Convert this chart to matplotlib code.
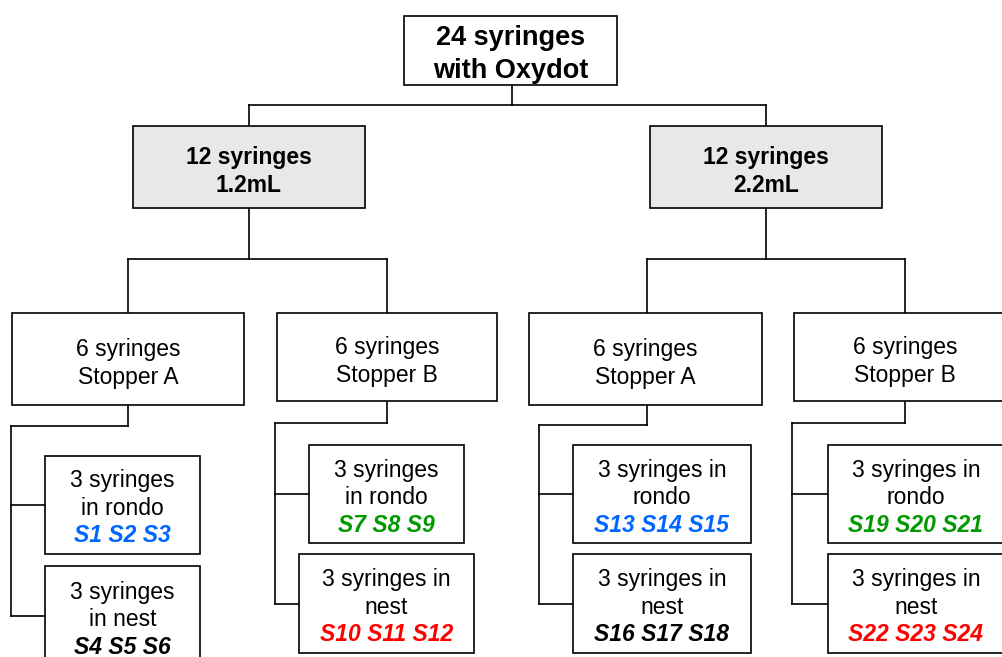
import matplotlib
matplotlib.use("Agg")
import matplotlib.pyplot as plt
from matplotlib.patches import Rectangle

plt.rcParams['font.family'] = ['Liberation Sans', 'DejaVu Sans']

# ---- data ----
root_lines = ["24 syringes", "with Oxydot"]
volume_lines = [["12 syringes", "1.2mL"], ["12 syringes", "2.2mL"]]
stopper_lines = [["6 syringes", "Stopper A"], ["6 syringes", "Stopper B"],
                 ["6 syringes", "Stopper A"], ["6 syringes", "Stopper B"]]
leaf_lines = [["3 syringes", "in rondo"], ["3 syringes", "in nest"],
              ["3 syringes", "in rondo"], ["3 syringes in", "nest"],
              ["3 syringes in", "rondo"], ["3 syringes in", "nest"],
              ["3 syringes in", "rondo"], ["3 syringes in", "nest"]]
leaf_ids = ["S1 S2 S3", "S4 S5 S6", "S7 S8 S9", "S10 S11 S12",
            "S13 S14 S15", "S16 S17 S18", "S19 S20 S21", "S22 S23 S24"]
leaf_colors = ["#0066FF", "#000000", "#009900", "#FF0000",
               "#0066FF", "#000000", "#009900", "#FF0000"]

# ---- layout (pixels: x0, y0, x1, y1) ----
root_box = (404, 16, 617, 85)
volume_boxes = [(133, 126, 365, 208), (650, 126, 882, 208)]
stopper_boxes = [(12, 313, 244, 405), (277, 313, 497, 401),
                 (529, 313, 762, 405), (794, 313, 1016, 401)]
leaf_boxes = [(45, 456, 200, 554), (45, 566, 200, 666),
              (309, 445, 464, 543), (299, 554, 474, 653),
              (573, 445, 751, 543), (573, 554, 751, 653),
              (828, 445, 1004, 543), (828, 554, 1004, 653)]
stopper_cx = [128, 387, 647, 905]
stopper_joint_y = [426, 423, 425, 423]
spine_x = [11, 275, 539, 792]

W, H = 1002, 657
fig = plt.figure(figsize=(W / 100, H / 100), dpi=100)
ax = fig.add_axes([0, 0, 1, 1])
ax.set_xlim(0, W)
ax.set_ylim(H, 0)
ax.axis('off')

LW = 1.2
def line(xs, ys, lw=LW):
    ax.plot(xs, ys, color='black', lw=lw, solid_capstyle='projecting', zorder=1)

def box(b, fc='white'):
    x0, y0, x1, y1 = b
    ax.add_patch(Rectangle((x0, y0), x1 - x0, y1 - y0, fc=fc, ec='black', lw=LW, zorder=2))

def texts(b, lines, size, weight='normal', spacing=27.5, dy=2, extra=None):
    x0, y0, x1, y1 = b
    cx = (x0 + x1) / 2
    allines = list(lines) + ([extra] if extra else [])
    n = len(allines)
    cy = (y0 + y1) / 2 + dy
    for i, ln in enumerate(allines):
        y = cy + (i - (n - 1) / 2) * spacing
        if extra and i == n - 1:
            ax.text(cx, y, ln[0], ha='center', va='center_baseline', fontsize=size,
                    fontweight='bold', fontstyle='italic', color=ln[1], zorder=3)
        else:
            ax.text(cx, y, ln, ha='center', va='center_baseline', fontsize=size,
                    fontweight=weight, color='black', zorder=3)

# connectors root -> volumes
rcx = (root_box[0] + root_box[2]) / 2 + 2
vcx = [(b[0] + b[2]) / 2 for b in volume_boxes]
line([rcx, rcx], [root_box[3], 105])
line([vcx[0], vcx[1]], [105, 105])
for c in vcx:
    line([c, c], [105, 126])

# volumes -> stoppers
for k in range(2):
    line([vcx[k], vcx[k]], [208, 259])
    a, b2 = stopper_cx[2 * k], stopper_cx[2 * k + 1]
    line([a, b2], [259, 259])
    for c, sb in zip((a, b2), (stopper_boxes[2 * k], stopper_boxes[2 * k + 1])):
        line([c, c], [259, sb[1]])

# stoppers -> leaves
for s in range(4):
    sb = stopper_boxes[s]
    c = stopper_cx[s]
    jy = stopper_joint_y[s]
    sx = spine_x[s]
    line([c, c], [sb[3], jy])
    line([sx, c], [jy, jy])
    r, n = leaf_boxes[2 * s], leaf_boxes[2 * s + 1]
    ry = (r[1] + r[3]) / 2
    ny = (n[1] + n[3]) / 2
    line([sx, sx], [jy, ny])
    line([sx, r[0]], [ry, ry])
    line([sx, n[0]], [ny, ny])

# boxes
box(root_box)
texts(root_box, root_lines, 19.5, 'bold', spacing=33, dy=1)
for b, l in zip(volume_boxes, volume_lines):
    box(b, fc='#E8E8E8')
    texts(b, l, 16.5, 'bold', dy=2)
for b, l in zip(stopper_boxes, stopper_lines):
    box(b)
    texts(b, l, 16.5, dy=2)
for b, l, sid, col in zip(leaf_boxes, leaf_lines, leaf_ids, leaf_colors):
    box(b)
    texts(b, l, 16.5, dy=1, extra=(sid, col))

fig.savefig('out.png', dpi=100)
